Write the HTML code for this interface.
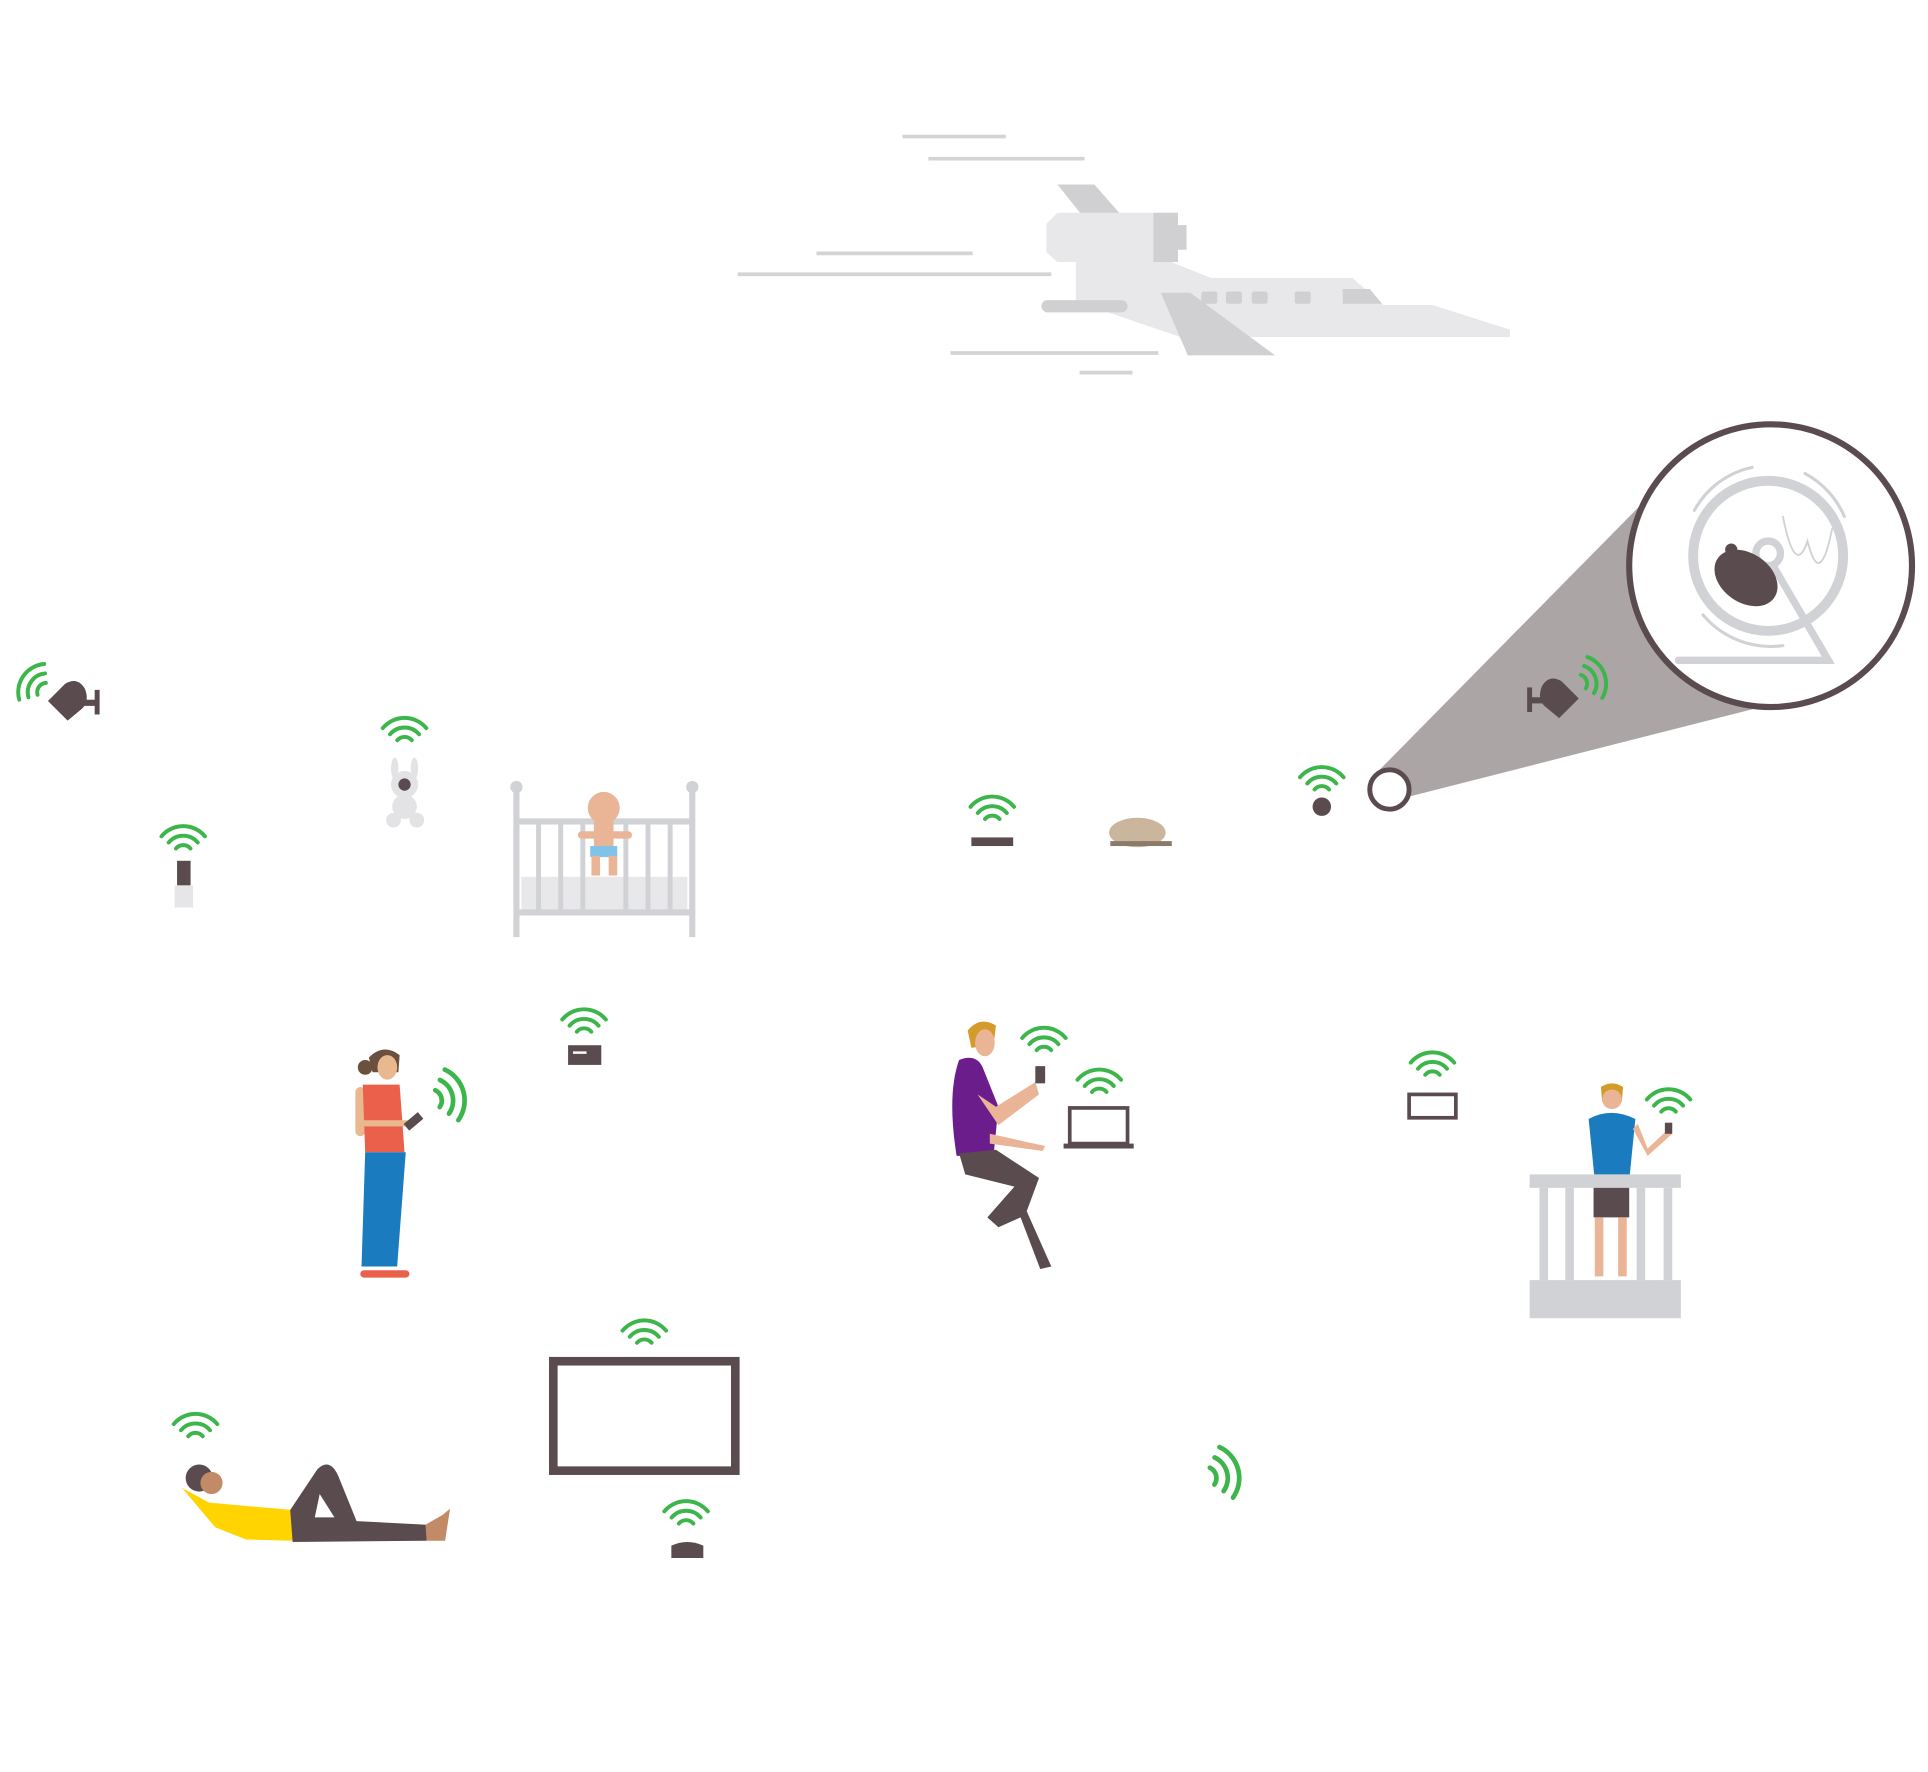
<!DOCTYPE html>
<html><head><meta charset="utf-8"><style>html,body{margin:0;padding:0;background:#fff}svg{display:block}</style></head>
<body>
<svg width="1928" height="1772" viewBox="0 0 1568 1441" xmlns="http://www.w3.org/2000/svg">
<defs>
<g id="w" fill="none" stroke="#3cb54a" stroke-width="3.2" stroke-linecap="round">
<path d="M-5.9,-5 A7.7,7.7 0 0 1 5.9,-5"/>
<path d="M-11.8,-9.9 A15.4,15.4 0 0 1 11.8,-9.9"/>
<path d="M-17.7,-14.9 A23,23 0 0 1 17.7,-14.9"/>
</g>
<g id="cam" fill="#5a4b4f">
<rect x="5" y="-1" width="18" height="5"/>
<rect x="22" y="-9" width="4" height="20"/>
<path d="M-16,0 L-2,-14 Q8,-20 14,-10 Q18,0 12,6 L0,16 Z"/>
</g>
</defs>
<rect width="1568" height="1441" fill="#fff"/>

<!-- plane -->
<g stroke="#d4d4d6" stroke-width="3">
<line x1="734" y1="111" x2="818" y2="111"/><line x1="755" y1="129" x2="882" y2="129"/>
<line x1="664" y1="206" x2="791" y2="206"/><line x1="600" y1="223" x2="855" y2="223"/>
<line x1="773" y1="287" x2="942" y2="287"/><line x1="878" y1="303" x2="921" y2="303"/>
</g>
<polygon points="860,150 890,150 912,175 880,175" fill="#d0d0d3"/>
<path d="M875,210 L945,210 L985,226 L1100,226 L1125,248 L1165,248 L1228,268 L1228,274 L960,274 L875,245 Z" fill="#e8e8ea"/>
<path d="M860,173 L958,173 L958,213 L860,213 L851,205 L851,182 Z" fill="#e8e8ea"/>
<rect x="938" y="173" width="20" height="40" fill="#d0d0d3"/>
<rect x="958" y="183" width="7" height="20" fill="#d0d0d3"/>
<polygon points="944,238 968,238 1037,289 966,289" fill="#d0d0d3"/>
<g fill="#d0d0d3"><rect x="977" y="237" width="13" height="10" rx="2"/><rect x="997" y="237" width="13" height="10" rx="2"/><rect x="1018" y="237" width="13" height="10" rx="2"/><rect x="1053" y="237" width="13" height="10" rx="2"/>
<polygon points="1092,235 1114,235 1124,247 1092,247"/>
<rect x="847" y="244" width="70" height="10" rx="5"/></g>

<!-- magnifier -->
<polygon points="1120,628 1335,410 1432,575 1145,648" fill="#aba5a6"/>
<circle cx="1440" cy="460" r="115" fill="#fff" stroke="#5a4b4f" stroke-width="5"/>
<circle cx="1130" cy="642" r="16" fill="#fff" stroke="#5a4b4f" stroke-width="4"/>
<g fill="none" stroke="#d1d2d5" stroke-linecap="round">
<circle cx="1438" cy="452" r="61" stroke-width="8"/>
<circle cx="1438" cy="450" r="10" stroke-width="6"/>
<polyline points="1442,460 1487,537 1365,537" stroke-width="6"/>
<path d="M1378,415 A70,70 0 0 1 1425,380" stroke-width="2.5"/>
<path d="M1468,385 A72,72 0 0 1 1500,420" stroke-width="2.5"/>
<path d="M1385,500 A72,72 0 0 0 1450,525" stroke-width="2.5"/>
<path d="M1450,420 Q1460,470 1470,440 Q1480,480 1490,430" stroke-width="1.5"/>
</g>
<ellipse cx="1420" cy="470" rx="28" ry="20" transform="rotate(35 1420 470)" fill="#5a4b4f"/>
<circle cx="1408" cy="447" r="5" fill="#5a4b4f"/>
<use href="#cam" transform="translate(1268,568) scale(-1,1)"/>
<use href="#w" transform="translate(1283,556) rotate(70)"/>
<circle cx="1075" cy="656" r="7.5" fill="#5a4b4f"/>
<use href="#w" transform="translate(1075,647)"/>

<!-- left camera -->
<use href="#cam" transform="translate(55,570)"/>
<use href="#w" transform="translate(38,563) rotate(-55)"/>

<!-- plug -->
<rect x="144" y="700" width="11" height="20" fill="#5a4b4f"/>
<rect x="142" y="720" width="15" height="18" fill="#e6e6e8"/>
<use href="#w" transform="translate(149,695)"/>

<!-- bunny -->
<g fill="#e3e3e5"><ellipse cx="321" cy="625" rx="3" ry="9"/><ellipse cx="337" cy="625" rx="3" ry="9"/><circle cx="329" cy="638" r="11"/><ellipse cx="329" cy="656" rx="10" ry="10"/><circle cx="320" cy="667" r="6"/><circle cx="339" cy="667" r="6"/></g>
<circle cx="329" cy="638" r="5" fill="#5a4b4f"/>
<use href="#w" transform="translate(329,607)"/>

<!-- crib -->
<rect x="424" y="713" width="135" height="27" fill="#e8e8ea"/>
<g stroke="#d1d2d5" stroke-width="5" fill="none">
<line x1="420" y1="640" x2="420" y2="762"/><line x1="563" y1="640" x2="563" y2="762"/>
<line x1="420" y1="668" x2="563" y2="668"/><line x1="420" y1="742" x2="563" y2="742"/>
<g stroke-width="4"><line x1="438" y1="668" x2="438" y2="742"/><line x1="456" y1="668" x2="456" y2="742"/><line x1="474" y1="668" x2="474" y2="742"/><line x1="509" y1="668" x2="509" y2="742"/><line x1="527" y1="668" x2="527" y2="742"/><line x1="545" y1="668" x2="545" y2="742"/></g>
</g>
<circle cx="420" cy="640" r="5" fill="#d1d2d5"/><circle cx="563" cy="640" r="5" fill="#d1d2d5"/>
<circle cx="491" cy="657" r="13" fill="#eab596"/>
<rect x="483" y="668" width="16" height="22" fill="#eab596"/>
<rect x="470" y="676" width="44" height="6" rx="3" fill="#eab596"/>
<rect x="480" y="688" width="22" height="9" fill="#7fc4e8"/>
<rect x="481" y="696" width="7" height="16" fill="#eab596"/><rect x="495" y="696" width="7" height="16" fill="#eab596"/>

<!-- bar device / cat -->
<rect x="790" y="681" width="34" height="7" fill="#5a4b4f"/>
<use href="#w" transform="translate(807,671)"/>
<ellipse cx="925" cy="677" rx="23" ry="12" fill="#c9b69c"/>
<rect x="903" y="684" width="50" height="4" fill="#8a7a6a"/>

<!-- woman -->
<path d="M300,860 Q312,848 325,858 L324,872 L303,872 Z" fill="#6b4f3f"/>
<circle cx="297" cy="868" r="6" fill="#6b4f3f"/>
<ellipse cx="315" cy="868" rx="8" ry="10" fill="#eab88f"/>
<rect x="289" y="884" width="8" height="40" rx="4" fill="#eab88f"/>
<path d="M295,882 L325,882 L329,937 L297,937 Z" fill="#ea604b"/>
<path d="M297,937 L330,937 L323,1030 L294,1030 Z" fill="#1a7cbf"/>
<rect x="293" y="1033" width="40" height="6" rx="3" fill="#ea604b"/>
<rect x="295" y="911" width="40" height="5" fill="#eab88f"/>
<rect x="333" y="905" width="7" height="15" fill="#5a4b4f" transform="rotate(50 337 912)"/>
<use href="#w" transform="translate(350,895) rotate(75) scale(1.2)"/>

<!-- router -->
<rect x="462" y="850" width="27" height="16" fill="#5a4b4f"/><rect x="466" y="855" width="11" height="2" fill="#fff"/>
<use href="#w" transform="translate(475,844)"/>

<!-- sitting man -->
<path d="M787,838 Q797,826 810,834 L808,850 L790,852 Z" fill="#d49a2a"/>
<ellipse cx="801" cy="848" rx="8" ry="11" fill="#eab596"/>
<path d="M780,862 Q795,856 800,870 L812,900 L808,940 L778,940 Q770,890 780,862 Z" fill="#6c1d8c"/>
<path d="M795,890 L812,915 L845,890 L842,880 L810,900 Z" fill="#eab596"/>
<rect x="842" y="867" width="8" height="14" fill="#5a4b4f"/>
<path d="M805,922 L850,932 L848,936 L805,930 Z" fill="#eab596"/>
<path d="M780,938 L810,935 L845,958 L835,985 L855,1030 L846,1032 L830,990 L812,998 L803,990 L825,965 L785,955 Z" fill="#5a4b4f"/>
<use href="#w" transform="translate(849,859)"/>
<rect x="870" y="901" width="47" height="29" fill="#fff" stroke="#5a4b4f" stroke-width="3"/>
<rect x="865" y="930" width="57" height="4" fill="#5a4b4f"/>
<use href="#w" transform="translate(894,893)"/>

<!-- small laptop outline -->
<rect x="1146" y="890" width="38" height="19" fill="#fff" stroke="#5a4b4f" stroke-width="3"/>
<use href="#w" transform="translate(1165,879)"/>

<!-- balcony man -->
<path d="M1302,884 Q1311,878 1320,884 L1319,896 L1303,896 Z" fill="#d49a2a"/>
<ellipse cx="1311" cy="894" rx="8" ry="8" fill="#eab596"/>
<path d="M1292,910 Q1310,900 1330,910 L1325,960 L1297,960 Z" fill="#1a7cbf"/>
<path d="M1328,918 L1340,940 L1360,922 L1357,918 L1340,934 L1332,914 Z" fill="#eab596"/>
<rect x="1354" y="913" width="6" height="9" fill="#5a4b4f"/>
<rect x="1296" y="960" width="29" height="30" fill="#5a4b4f"/>
<rect x="1297" y="990" width="7" height="48" fill="#eab596"/><rect x="1316" y="990" width="7" height="48" fill="#eab596"/>
<use href="#w" transform="translate(1357,909)"/>
<g fill="#d1d2d5"><rect x="1244" y="955" width="123" height="11"/><rect x="1244" y="1041" width="123" height="31"/>
<rect x="1252" y="966" width="7" height="75"/><rect x="1273" y="966" width="7" height="75"/><rect x="1331" y="966" width="7" height="75"/><rect x="1353" y="966" width="7" height="75"/></g>

<!-- TV / speaker -->
<rect x="450" y="1107" width="148" height="89" fill="none" stroke="#5a4b4f" stroke-width="7"/>
<use href="#w" transform="translate(524,1097)"/>
<path d="M546,1257 Q559,1251 572,1257 L572,1267 L546,1267 Z" fill="#5a4b4f"/>
<use href="#w" transform="translate(558,1244)"/>

<!-- lying man -->
<use href="#w" transform="translate(159,1173)"/>
<circle cx="162" cy="1202" r="11" fill="#5a4b4f"/>
<circle cx="172" cy="1206" r="9" fill="#c28a66"/>
<path d="M148,1210 L170,1222 L238,1228 L238,1253 L200,1252 L175,1242 Z" fill="#ffd400"/>
<path d="M236,1228 L258,1195 Q268,1185 275,1200 L290,1237 L347,1240 L347,1253 L238,1254 Z" fill="#5a4b4f"/>
<path d="M260,1215 L272,1234 L256,1234 Z" fill="#fff"/>
<path d="M346,1240 L360,1232 L366,1227 L362,1253 L347,1253 Z" fill="#c28a66"/>

<use href="#w" transform="translate(980,1202) rotate(75) scale(1.2)"/>
</svg>
</body></html>
